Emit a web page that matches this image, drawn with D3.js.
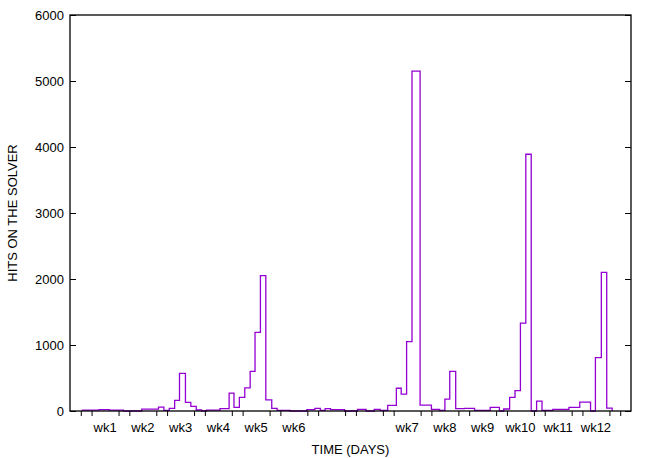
<!DOCTYPE html>
<html>
<head>
<meta charset="utf-8">
<script src="https://cdn.jsdelivr.net/npm/d3@7"></script>
<style>
  html, body { margin: 0; padding: 0; background: #fff; }
  svg { display: block; }
  text { font-family: "Liberation Sans", Arial, Helvetica, sans-serif; fill: #000; }
</style>
</head>
<body>
<svg id="chart" width="654" height="458"></svg>
<script>
// ---- data (days since start, step edges) ----
const stepEdges = [0.3, 3.4, 5.3, 7.9, 11.3, 14.4, 15.4, 16.4, 17.4, 18.3, 19.4, 20.4, 21.4, 22.4, 23.3,
  25.8, 27.5, 28.4, 29.4, 30.4, 31.4, 32.3, 33.3, 34.3, 35.4, 36.4, 38.8, 41.9, 43.4, 44.4, 45.3, 46.3,
  48.9, 51.3, 52.9, 54.4, 55.5, 56.9, 58.5, 59.4, 60.4, 61.4, 62.9, 65.0, 66.5, 67.5, 68.4, 69.5, 71.1,
  73.0, 75.9, 77.6, 78.4, 79.5, 80.5, 81.5, 82.5, 83.5, 84.5, 85.5, 87.5, 90.5, 92.5, 94.5, 95.4, 96.5,
  97.5, 98.5];
const hits = [12, 20, 12, 0, 28, 58, 10, 40, 160, 570, 130, 70, 15, 0,
  12, 35, 270, 55, 205, 350, 600, 1190, 2050, 170, 40, 10, 0, 20, 40, 10, 35,
  20, 0, 25, 0, 25, 8, 85, 345, 255, 1050, 5150, 90, 25, 10, 180, 600, 35,
  40, 10, 55, 0, 30, 205, 310, 1330, 3890, 0, 150, 8, 25, 55, 135, 0, 810,
  2100, 45];
const xTickDays = [0, 2, 7, 9, 14, 16, 21, 23, 28, 30, 35, 37, 42, 44, 49, 51, 56, 58, 63, 65, 70, 72,
  77, 79, 84, 86, 91, 93, 98, 100];
const weekLabels = ["wk1", "wk2", "wk3", "wk4", "wk5", "wk6", "wk7", "wk8", "wk9", "wk10", "wk11", "wk12"];
const weekLabelDays = [4.5, 11.5, 18.5, 25.5, 32.5, 39.5, 60.5, 67.5, 74.5, 81.5, 88.5, 95.5];
const yTicks = [0, 1000, 2000, 3000, 4000, 5000, 6000];
const xTitle = "TIME (DAYS)";
const yTitle = "HITS ON THE SOLVER";

// ---- layout ----
const mLeft = 70, mRight = 631, mTop = 15, mBottom = 411;
const svg = d3.select("#chart");
const x = d3.scaleLinear().domain([-2, 102]).range([mLeft, mRight]);
const y = d3.scaleLinear().domain([0, 6000]).range([mBottom, mTop]);

// step path
const pts = [];
pts.push([stepEdges[0], 0]);
hits.forEach((v, i) => {
  pts.push([stepEdges[i], v]);
  pts.push([stepEdges[i + 1], v]);
});
pts.push([stepEdges[stepEdges.length - 1], 0]);
const line = d3.line().x(d => x(d[0])).y(d => y(d[1]));
svg.append("path")
  .attr("d", line(pts))
  .attr("fill", "none")
  .attr("stroke", "#9400d3")
  .attr("stroke-width", 1.3)
  .attr("stroke-linejoin", "miter");

// axes
const fontSize = 13;
const yAxisL = d3.axisLeft(y).tickValues(yTicks).tickSize(-6).tickPadding(6).tickFormat(d3.format("d"));
const gy = svg.append("g").attr("transform", `translate(${mLeft},0)`).call(yAxisL);
gy.select(".domain").remove();
gy.selectAll("text").style("font-size", fontSize + "px").attr("fill", "#000");
gy.selectAll("line").attr("stroke", "#000");

const yAxisR = d3.axisRight(y).tickValues(yTicks).tickSize(-6).tickFormat("");
const gyr = svg.append("g").attr("transform", `translate(${mRight},0)`).call(yAxisR);
gyr.select(".domain").remove();
gyr.selectAll("line").attr("stroke", "#000");

const xAxis = d3.axisBottom(x).tickValues(xTickDays).tickSize(5).tickFormat("");
const gx = svg.append("g").attr("transform", `translate(0,${mBottom})`).call(xAxis);
gx.select(".domain").remove();
gx.selectAll("line").attr("stroke", "#000");

// border
svg.append("rect")
  .attr("x", mLeft).attr("y", mTop)
  .attr("width", mRight - mLeft).attr("height", mBottom - mTop)
  .attr("fill", "none").attr("stroke", "#000").attr("stroke-width", 1.3);

// week labels
svg.append("g").selectAll("text")
  .data(weekLabels)
  .join("text")
  .attr("x", (d, i) => x(weekLabelDays[i]))
  .attr("y", mBottom + 21)
  .attr("text-anchor", "middle")
  .style("font-size", fontSize + "px")
  .text(d => d);

// titles
svg.append("text")
  .attr("x", (mLeft + mRight) / 2)
  .attr("y", 454)
  .attr("text-anchor", "middle")
  .style("font-size", fontSize + "px")
  .text(xTitle);

svg.append("text")
  .attr("transform", `translate(17,${(mTop + mBottom) / 2}) rotate(-90)`)
  .attr("text-anchor", "middle")
  .style("font-size", fontSize + "px")
  .text(yTitle);
</script>
</body>
</html>
